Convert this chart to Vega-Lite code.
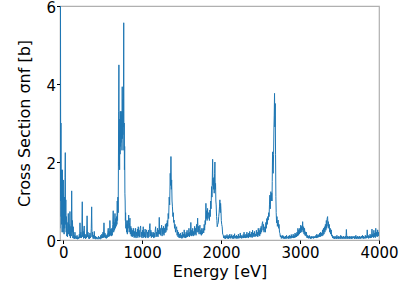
{
"$schema": "https://vega.github.io/schema/vega-lite/v6.json",
"width": 319, "height": 234,
"autosize": {"type": "none"},
"padding": {"left": 60, "top": 6, "right": 20, "bottom": 50},
"config": {"font": "DejaVu Sans", "view": {"stroke": "#b0b0b0", "strokeWidth": 1.2},
 "axis": {"grid": false, "domain": false, "tickColor": "#000", "labelColor": "#000", "titleColor": "#000", "labelFontSize": 15, "titleFontSize": 16, "titleFontWeight": "normal", "tickSize": 3.5, "labelFont": "DejaVu Sans", "titleFont": "DejaVu Sans"}},
"data": {"values": [
{"energy":-40,"sigma":0.3},{"energy":-38,"sigma":6.5},{"energy":-36,"sigma":1.0},{"energy":-34,"sigma":6.5},{"energy":-31,"sigma":1.4},{"energy":-28,"sigma":3.0},{"energy":-25,"sigma":0.6},{"energy":-22,"sigma":1.8},{"energy":-19,"sigma":0.4},{"energy":-16,"sigma":1.6},{"energy":-13,"sigma":0.2},{"energy":-10,"sigma":1.8},{"energy":-7,"sigma":0.5},{"energy":-4,"sigma":1.2},{"energy":-1,"sigma":0.2},{"energy":2,"sigma":1.54},{"energy":5,"sigma":0.3},
{"energy":8,"sigma":0.9},{"energy":12,"sigma":0.15},{"energy":16,"sigma":1.1},{"energy":20,"sigma":0.3},{"energy":24,"sigma":1.6},{"energy":27,"sigma":2.24},{"energy":30,"sigma":0.4},{"energy":34,"sigma":1.03},{"energy":38,"sigma":0.2},{"energy":42,"sigma":0.6},{"energy":46,"sigma":0.1},{"energy":50,"sigma":0.45},{"energy":55,"sigma":0.08},{"energy":60,"sigma":0.3},{"energy":65,"sigma":0.68},{"energy":70,"sigma":0.15},{"energy":75,"sigma":0.4},{"energy":80,"sigma":0.1},{"energy":86,"sigma":0.73},{"energy":92,"sigma":0.05},{"energy":98,"sigma":0.35},{"energy":103,"sigma":0.1},{"energy":108,"sigma":1.26},{"energy":113,"sigma":0.2},{"energy":118,"sigma":0.5},{"energy":123,"sigma":0.05},{"energy":128,"sigma":0.34},{"energy":134,"sigma":0.04},{"energy":140,"sigma":0.12},{"energy":146,"sigma":0.03},{"energy":149,"sigma":0.2},{"energy":155,"sigma":0.04},{"energy":162,"sigma":0.1},{"energy":170,"sigma":0.03},{"energy":176,"sigma":0.12},{"energy":183,"sigma":0.02},{"energy":190,"sigma":0.08},{"energy":197,"sigma":0.03},{"energy":205,"sigma":0.15},{"energy":210,"sigma":0.05},{"energy":213,"sigma":0.44},{"energy":218,"sigma":0.06},{"energy":224,"sigma":0.2},{"energy":230,"sigma":0.05},{"energy":236,"sigma":0.15},{"energy":242,"sigma":0.98},{"energy":247,"sigma":0.08},{"energy":253,"sigma":0.22},{"energy":258,"sigma":0.04},{"energy":263,"sigma":0.3},{"energy":267,"sigma":0.36},{"energy":272,"sigma":0.05},{"energy":278,"sigma":0.15},{"energy":284,"sigma":0.03},{"energy":290,"sigma":0.12},{"energy":296,"sigma":0.05},{"energy":303,"sigma":0.62},{"energy":309,"sigma":0.08},{"energy":315,"sigma":0.2},{"energy":321,"sigma":0.04},{"energy":327,"sigma":0.12},{"energy":333,"sigma":0.03},{"energy":339,"sigma":0.18},{"energy":345,"sigma":0.05},{"energy":351,"sigma":0.1},{"energy":356,"sigma":0.3},{"energy":361,"sigma":0.85},{"energy":366,"sigma":0.08},{"energy":372,"sigma":0.2},{"energy":378,"sigma":0.04},{"energy":385,"sigma":0.12},{"energy":390,"sigma":0.03},{"energy":394,"sigma":0.22},{"energy":400,"sigma":0.04},{"energy":407,"sigma":0.1},{"energy":413,"sigma":0.02},{"energy":420,"sigma":0.08},{"energy":427,"sigma":0.03},{"energy":434,"sigma":0.06},{"energy":441,"sigma":0.02},{"energy":448,"sigma":0.1},{"energy":455,"sigma":0.03},{"energy":462,"sigma":0.07},{"energy":469,"sigma":0.02},{"energy":476,"sigma":0.12},{"energy":483,"sigma":0.04},{"energy":490,"sigma":0.15},{"energy":497,"sigma":0.05},{"energy":504,"sigma":0.2},{"energy":510,"sigma":0.06},{"energy":517,"sigma":0.44},{"energy":523,"sigma":0.07},{"energy":529,"sigma":0.18},{"energy":535,"sigma":0.05},{"energy":541,"sigma":0.14},{"energy":547,"sigma":0.04},{"energy":553,"sigma":0.12},{"energy":559,"sigma":0.06},{"energy":565,"sigma":0.2},{"energy":571,"sigma":0.3},{"energy":577,"sigma":0.08},{"energy":583,"sigma":0.22},{"energy":588,"sigma":0.1},{"energy":592,"sigma":0.5},{"energy":598,"sigma":0.12},{"energy":604,"sigma":0.28},{"energy":610,"sigma":0.1},{"energy":616,"sigma":0.3},{"energy":622,"sigma":0.12},{"energy":628,"sigma":0.4},{"energy":634,"sigma":0.75},{"energy":640,"sigma":0.2},{"energy":646,"sigma":0.45},{"energy":651,"sigma":0.25},{"energy":656,"sigma":0.68},{"energy":661,"sigma":0.3},{"energy":666,"sigma":0.55},{"energy":671,"sigma":0.35},{"energy":676,"sigma":0.6},{"energy":681,"sigma":0.4},{"energy":685,"sigma":1.0},{"energy":689,"sigma":0.5},{"energy":693,"sigma":1.1},{"energy":697,"sigma":0.7},{"energy":700,"sigma":2.0},{"energy":703,"sigma":3.3},{"energy":706,"sigma":4.49},{"energy":709,"sigma":1.9},{"energy":712,"sigma":2.8},{"energy":715,"sigma":1.8},{"energy":718,"sigma":3.1},{"energy":721,"sigma":2.2},{"energy":724,"sigma":3.3},{"energy":727,"sigma":2.4},{"energy":730,"sigma":3.2},{"energy":733,"sigma":2.5},{"energy":736,"sigma":3.3},{"energy":739,"sigma":2.6},{"energy":742,"sigma":3.0},{"energy":745,"sigma":2.3},{"energy":748,"sigma":3.93},{"energy":751,"sigma":2.6},{"energy":754,"sigma":3.3},{"energy":757,"sigma":2.7},{"energy":760,"sigma":3.6},{"energy":763,"sigma":2.9},{"energy":767,"sigma":5.57},{"energy":770,"sigma":2.3},{"energy":773,"sigma":3.0},{"energy":776,"sigma":1.8},{"energy":779,"sigma":2.4},{"energy":782,"sigma":1.2},{"energy":785,"sigma":1.0},{"energy":788,"sigma":0.5},{"energy":791,"sigma":0.7},{"energy":794,"sigma":0.3},{"energy":798,"sigma":0.5},{"energy":803,"sigma":0.2},{"energy":808,"sigma":0.4},{"energy":813,"sigma":0.15},{"energy":818,"sigma":0.5},{"energy":823,"sigma":0.3},{"energy":830,"sigma":0.64},{"energy":836,"sigma":0.2},{"energy":842,"sigma":0.45},{"energy":846,"sigma":0.56},{"energy":851,"sigma":0.15},{"energy":857,"sigma":0.35},{"energy":863,"sigma":0.1},{"energy":869,"sigma":0.3},{"energy":875,"sigma":0.08},{"energy":881,"sigma":0.25},{"energy":887,"sigma":0.1},{"energy":893,"sigma":0.3},{"energy":899,"sigma":0.06},{"energy":905,"sigma":0.22},{"energy":911,"sigma":0.08},{"energy":917,"sigma":0.3},{"energy":923,"sigma":0.05},{"energy":929,"sigma":0.2},{"energy":935,"sigma":0.1},{"energy":941,"sigma":0.28},{"energy":946,"sigma":0.06},{"energy":951,"sigma":0.34},{"energy":957,"sigma":0.1},{"energy":963,"sigma":0.25},{"energy":969,"sigma":0.07},{"energy":975,"sigma":0.3},{"energy":981,"sigma":0.36},{"energy":987,"sigma":0.08},{"energy":993,"sigma":0.2},{"energy":999,"sigma":0.05},{"energy":1005,"sigma":0.25},{"energy":1010,"sigma":0.1},{"energy":1014,"sigma":0.34},{"energy":1020,"sigma":0.06},{"energy":1026,"sigma":0.2},{"energy":1032,"sigma":0.08},{"energy":1038,"sigma":0.28},{"energy":1044,"sigma":0.05},{"energy":1050,"sigma":0.18},{"energy":1057,"sigma":0.26},{"energy":1063,"sigma":0.07},{"energy":1069,"sigma":0.2},{"energy":1075,"sigma":0.05},{"energy":1081,"sigma":0.25},{"energy":1087,"sigma":0.08},{"energy":1093,"sigma":0.3},{"energy":1099,"sigma":0.42},{"energy":1105,"sigma":0.1},{"energy":1111,"sigma":0.25},{"energy":1117,"sigma":0.06},{"energy":1123,"sigma":0.2},{"energy":1129,"sigma":0.08},{"energy":1135,"sigma":0.15},{"energy":1141,"sigma":0.2},{"energy":1147,"sigma":0.05},{"energy":1153,"sigma":0.18},{"energy":1159,"sigma":0.07},{"energy":1165,"sigma":0.22},{"energy":1171,"sigma":0.34},{"energy":1177,"sigma":0.08},{"energy":1183,"sigma":0.2},{"energy":1189,"sigma":0.1},{"energy":1195,"sigma":0.3},{"energy":1201,"sigma":0.08},{"energy":1207,"sigma":0.25},{"energy":1212,"sigma":0.15},{"energy":1217,"sigma":0.58},{"energy":1223,"sigma":0.15},{"energy":1229,"sigma":0.3},{"energy":1235,"sigma":0.12},{"energy":1241,"sigma":0.25},{"energy":1247,"sigma":0.38},{"energy":1253,"sigma":0.1},{"energy":1259,"sigma":0.3},{"energy":1265,"sigma":0.15},{"energy":1271,"sigma":0.35},{"energy":1277,"sigma":0.12},{"energy":1283,"sigma":0.3},{"energy":1289,"sigma":0.18},{"energy":1295,"sigma":0.4},{"energy":1301,"sigma":0.2},{"energy":1307,"sigma":0.43},{"energy":1313,"sigma":0.25},{"energy":1319,"sigma":0.5},{"energy":1324,"sigma":0.35},{"energy":1330,"sigma":0.68},{"energy":1336,"sigma":0.55},{"energy":1343,"sigma":1.1},{"energy":1349,"sigma":0.9},{"energy":1356,"sigma":1.71},{"energy":1360,"sigma":1.4},{"energy":1365,"sigma":2.14},{"energy":1370,"sigma":1.3},{"energy":1374,"sigma":1.54},{"energy":1379,"sigma":1.0},{"energy":1384,"sigma":0.85},{"energy":1390,"sigma":0.6},{"energy":1395,"sigma":0.7},{"energy":1400,"sigma":0.45},{"energy":1405,"sigma":0.51},{"energy":1411,"sigma":0.3},{"energy":1417,"sigma":0.4},{"energy":1423,"sigma":0.2},{"energy":1430,"sigma":0.3},{"energy":1437,"sigma":0.34},{"energy":1443,"sigma":0.12},{"energy":1449,"sigma":0.25},{"energy":1455,"sigma":0.08},{"energy":1461,"sigma":0.2},{"energy":1467,"sigma":0.06},{"energy":1473,"sigma":0.15},{"energy":1479,"sigma":0.05},{"energy":1485,"sigma":0.18},{"energy":1491,"sigma":0.06},{"energy":1497,"sigma":0.12},{"energy":1503,"sigma":0.04},{"energy":1509,"sigma":0.2},{"energy":1515,"sigma":0.05},{"energy":1521,"sigma":0.15},{"energy":1527,"sigma":0.08},{"energy":1533,"sigma":0.26},{"energy":1539,"sigma":0.06},{"energy":1545,"sigma":0.14},{"energy":1551,"sigma":0.05},{"energy":1557,"sigma":0.2},{"energy":1563,"sigma":0.07},{"energy":1569,"sigma":0.25},{"energy":1575,"sigma":0.08},{"energy":1581,"sigma":0.18},{"energy":1587,"sigma":0.1},{"energy":1593,"sigma":0.3},{"energy":1599,"sigma":0.08},{"energy":1605,"sigma":0.2},{"energy":1611,"sigma":0.12},{"energy":1617,"sigma":0.45},{"energy":1623,"sigma":0.1},{"energy":1629,"sigma":0.25},{"energy":1635,"sigma":0.12},{"energy":1641,"sigma":0.3},{"energy":1647,"sigma":0.1},{"energy":1653,"sigma":0.22},{"energy":1659,"sigma":0.12},{"energy":1665,"sigma":0.35},{"energy":1671,"sigma":0.15},{"energy":1677,"sigma":0.3},{"energy":1683,"sigma":0.12},{"energy":1689,"sigma":0.4},{"energy":1696,"sigma":0.2},{"energy":1703,"sigma":0.56},{"energy":1709,"sigma":0.2},{"energy":1715,"sigma":0.35},{"energy":1721,"sigma":0.15},{"energy":1727,"sigma":0.3},{"energy":1732,"sigma":0.38},{"energy":1738,"sigma":0.15},{"energy":1744,"sigma":0.25},{"energy":1750,"sigma":0.12},{"energy":1756,"sigma":0.3},{"energy":1762,"sigma":0.15},{"energy":1768,"sigma":0.25},{"energy":1774,"sigma":0.3},{"energy":1780,"sigma":0.18},{"energy":1786,"sigma":0.4},{"energy":1792,"sigma":0.25},{"energy":1798,"sigma":0.5},{"energy":1803,"sigma":0.4},{"energy":1808,"sigma":0.94},{"energy":1813,"sigma":0.55},{"energy":1818,"sigma":0.75},{"energy":1823,"sigma":0.5},{"energy":1829,"sigma":0.81},{"energy":1834,"sigma":0.55},{"energy":1840,"sigma":0.7},{"energy":1846,"sigma":0.69},{"energy":1852,"sigma":0.5},{"energy":1858,"sigma":0.77},{"energy":1863,"sigma":0.6},{"energy":1868,"sigma":1.0},{"energy":1873,"sigma":0.8},{"energy":1880,"sigma":1.37},{"energy":1885,"sigma":1.1},{"energy":1889,"sigma":1.6},{"energy":1893,"sigma":2.07},{"energy":1897,"sigma":1.4},{"energy":1900,"sigma":1.6},{"energy":1904,"sigma":1.3},{"energy":1909,"sigma":1.54},{"energy":1913,"sigma":1.2},{"energy":1918,"sigma":1.7},{"energy":1922,"sigma":2.0},{"energy":1926,"sigma":1.3},{"energy":1930,"sigma":1.45},{"energy":1934,"sigma":1.0},{"energy":1938,"sigma":0.9},{"energy":1943,"sigma":0.6},{"energy":1947,"sigma":0.5},{"energy":1951,"sigma":0.34},{"energy":1957,"sigma":0.4},{"energy":1964,"sigma":0.44},{"energy":1970,"sigma":0.6},{"energy":1975,"sigma":0.7},{"energy":1980,"sigma":0.85},{"energy":1985,"sigma":1.03},{"energy":1990,"sigma":0.7},{"energy":1994,"sigma":0.94},{"energy":1998,"sigma":0.8},{"energy":2003,"sigma":0.5},{"energy":2008,"sigma":0.4},{"energy":2014,"sigma":0.34},{"energy":2020,"sigma":0.15},{"energy":2027,"sigma":0.13},{"energy":2033,"sigma":0.05},{"energy":2039,"sigma":0.1},{"energy":2045,"sigma":0.04},{"energy":2051,"sigma":0.12},{"energy":2057,"sigma":0.03},{"energy":2063,"sigma":0.1},{"energy":2069,"sigma":0.05},{"energy":2075,"sigma":0.14},{"energy":2081,"sigma":0.04},{"energy":2087,"sigma":0.1},{"energy":2093,"sigma":0.03},{"energy":2099,"sigma":0.12},{"energy":2105,"sigma":0.05},{"energy":2111,"sigma":0.15},{"energy":2117,"sigma":0.04},{"energy":2123,"sigma":0.1},{"energy":2129,"sigma":0.06},{"energy":2135,"sigma":0.14},{"energy":2141,"sigma":0.04},{"energy":2147,"sigma":0.1},{"energy":2153,"sigma":0.03},{"energy":2159,"sigma":0.12},{"energy":2165,"sigma":0.05},{"energy":2171,"sigma":0.16},{"energy":2177,"sigma":0.04},{"energy":2183,"sigma":0.1},{"energy":2189,"sigma":0.05},{"energy":2195,"sigma":0.12},{"energy":2201,"sigma":0.03},{"energy":2207,"sigma":0.1},{"energy":2213,"sigma":0.05},{"energy":2219,"sigma":0.15},{"energy":2225,"sigma":0.04},{"energy":2231,"sigma":0.1},{"energy":2237,"sigma":0.06},{"energy":2243,"sigma":0.18},{"energy":2249,"sigma":0.05},{"energy":2255,"sigma":0.12},{"energy":2261,"sigma":0.04},{"energy":2267,"sigma":0.1},{"energy":2273,"sigma":0.06},{"energy":2279,"sigma":0.14},{"energy":2285,"sigma":0.05},{"energy":2291,"sigma":0.2},{"energy":2297,"sigma":0.06},{"energy":2303,"sigma":0.12},{"energy":2309,"sigma":0.05},{"energy":2315,"sigma":0.15},{"energy":2321,"sigma":0.06},{"energy":2327,"sigma":0.2},{"energy":2333,"sigma":0.07},{"energy":2339,"sigma":0.14},{"energy":2345,"sigma":0.05},{"energy":2351,"sigma":0.18},{"energy":2357,"sigma":0.08},{"energy":2363,"sigma":0.22},{"energy":2369,"sigma":0.07},{"energy":2375,"sigma":0.15},{"energy":2381,"sigma":0.08},{"energy":2387,"sigma":0.2},{"energy":2393,"sigma":0.06},{"energy":2399,"sigma":0.25},{"energy":2405,"sigma":0.08},{"energy":2411,"sigma":0.18},{"energy":2417,"sigma":0.1},{"energy":2423,"sigma":0.22},{"energy":2429,"sigma":0.08},{"energy":2435,"sigma":0.15},{"energy":2441,"sigma":0.1},{"energy":2447,"sigma":0.25},{"energy":2453,"sigma":0.1},{"energy":2459,"sigma":0.2},{"energy":2465,"sigma":0.08},{"energy":2471,"sigma":0.3},{"energy":2477,"sigma":0.12},{"energy":2483,"sigma":0.25},{"energy":2489,"sigma":0.1},{"energy":2495,"sigma":0.3},{"energy":2501,"sigma":0.15},{"energy":2507,"sigma":0.35},{"energy":2513,"sigma":0.2},{"energy":2519,"sigma":0.4},{"energy":2526,"sigma":0.47},{"energy":2532,"sigma":0.25},{"energy":2538,"sigma":0.4},{"energy":2544,"sigma":0.2},{"energy":2549,"sigma":0.3},{"energy":2555,"sigma":0.34},{"energy":2561,"sigma":0.2},{"energy":2567,"sigma":0.45},{"energy":2573,"sigma":0.3},{"energy":2579,"sigma":0.55},{"energy":2585,"sigma":0.4},{"energy":2591,"sigma":0.6},{"energy":2597,"sigma":0.51},{"energy":2603,"sigma":0.7},{"energy":2608,"sigma":0.6},{"energy":2613,"sigma":0.9},{"energy":2618,"sigma":1.15},{"energy":2623,"sigma":0.8},{"energy":2627,"sigma":1.1},{"energy":2631,"sigma":1.24},{"energy":2636,"sigma":1.0},{"energy":2641,"sigma":1.2},{"energy":2645,"sigma":1.0},{"energy":2648,"sigma":1.5},{"energy":2652,"sigma":2.26},{"energy":2656,"sigma":1.8},{"energy":2660,"sigma":1.71},{"energy":2665,"sigma":2.2},{"energy":2669,"sigma":2.82},{"energy":2673,"sigma":3.2},{"energy":2677,"sigma":3.76},{"energy":2681,"sigma":2.9},{"energy":2686,"sigma":3.5},{"energy":2690,"sigma":2.2},{"energy":2694,"sigma":1.11},{"energy":2698,"sigma":0.7},{"energy":2703,"sigma":0.44},{"energy":2708,"sigma":0.6},{"energy":2713,"sigma":0.35},{"energy":2718,"sigma":0.45},{"energy":2723,"sigma":0.51},{"energy":2729,"sigma":0.3},{"energy":2734,"sigma":0.4},{"energy":2740,"sigma":0.2},{"energy":2745,"sigma":0.17},{"energy":2751,"sigma":0.08},{"energy":2757,"sigma":0.12},{"energy":2763,"sigma":0.04},{"energy":2769,"sigma":0.1},{"energy":2775,"sigma":0.05},{"energy":2781,"sigma":0.12},{"energy":2787,"sigma":0.04},{"energy":2793,"sigma":0.1},{"energy":2799,"sigma":0.03},{"energy":2805,"sigma":0.08},{"energy":2811,"sigma":0.04},{"energy":2817,"sigma":0.1},{"energy":2823,"sigma":0.03},{"energy":2829,"sigma":0.12},{"energy":2835,"sigma":0.05},{"energy":2841,"sigma":0.08},{"energy":2847,"sigma":0.04},{"energy":2853,"sigma":0.1},{"energy":2859,"sigma":0.03},{"energy":2865,"sigma":0.12},{"energy":2871,"sigma":0.05},{"energy":2877,"sigma":0.1},{"energy":2883,"sigma":0.04},{"energy":2889,"sigma":0.14},{"energy":2895,"sigma":0.05},{"energy":2901,"sigma":0.1},{"energy":2907,"sigma":0.06},{"energy":2913,"sigma":0.15},{"energy":2919,"sigma":0.05},{"energy":2925,"sigma":0.12},{"energy":2931,"sigma":0.06},{"energy":2937,"sigma":0.18},{"energy":2943,"sigma":0.07},{"energy":2949,"sigma":0.15},{"energy":2955,"sigma":0.08},{"energy":2961,"sigma":0.2},{"energy":2967,"sigma":0.1},{"energy":2973,"sigma":0.3},{"energy":2979,"sigma":0.12},{"energy":2985,"sigma":0.26},{"energy":2991,"sigma":0.15},{"energy":2997,"sigma":0.3},{"energy":3003,"sigma":0.18},{"energy":3009,"sigma":0.38},{"energy":3015,"sigma":0.2},{"energy":3021,"sigma":0.35},{"energy":3027,"sigma":0.25},{"energy":3033,"sigma":0.47},{"energy":3039,"sigma":0.2},{"energy":3045,"sigma":0.34},{"energy":3051,"sigma":0.15},{"energy":3057,"sigma":0.3},{"energy":3063,"sigma":0.12},{"energy":3069,"sigma":0.21},{"energy":3075,"sigma":0.1},{"energy":3081,"sigma":0.2},{"energy":3087,"sigma":0.06},{"energy":3093,"sigma":0.12},{"energy":3099,"sigma":0.05},{"energy":3105,"sigma":0.1},{"energy":3111,"sigma":0.04},{"energy":3117,"sigma":0.12},{"energy":3123,"sigma":0.05},{"energy":3129,"sigma":0.08},{"energy":3135,"sigma":0.03},{"energy":3141,"sigma":0.1},{"energy":3147,"sigma":0.04},{"energy":3153,"sigma":0.08},{"energy":3159,"sigma":0.05},{"energy":3165,"sigma":0.1},{"energy":3171,"sigma":0.04},{"energy":3177,"sigma":0.08},{"energy":3183,"sigma":0.05},{"energy":3189,"sigma":0.1},{"energy":3195,"sigma":0.06},{"energy":3201,"sigma":0.12},{"energy":3207,"sigma":0.05},{"energy":3213,"sigma":0.15},{"energy":3219,"sigma":0.06},{"energy":3225,"sigma":0.12},{"energy":3231,"sigma":0.07},{"energy":3237,"sigma":0.14},{"energy":3243,"sigma":0.08},{"energy":3249,"sigma":0.18},{"energy":3255,"sigma":0.08},{"energy":3261,"sigma":0.2},{"energy":3267,"sigma":0.1},{"energy":3273,"sigma":0.18},{"energy":3279,"sigma":0.1},{"energy":3285,"sigma":0.26},{"energy":3291,"sigma":0.12},{"energy":3297,"sigma":0.3},{"energy":3303,"sigma":0.15},{"energy":3309,"sigma":0.34},{"energy":3315,"sigma":0.2},{"energy":3321,"sigma":0.4},{"energy":3327,"sigma":0.25},{"energy":3333,"sigma":0.5},{"energy":3338,"sigma":0.3},{"energy":3343,"sigma":0.55},{"energy":3349,"sigma":0.6},{"energy":3354,"sigma":0.35},{"energy":3359,"sigma":0.47},{"energy":3364,"sigma":0.3},{"energy":3370,"sigma":0.4},{"energy":3376,"sigma":0.2},{"energy":3382,"sigma":0.3},{"energy":3388,"sigma":0.15},{"energy":3395,"sigma":0.26},{"energy":3401,"sigma":0.1},{"energy":3407,"sigma":0.13},{"energy":3413,"sigma":0.05},{"energy":3419,"sigma":0.1},{"energy":3425,"sigma":0.04},{"energy":3431,"sigma":0.08},{"energy":3437,"sigma":0.03},{"energy":3443,"sigma":0.1},{"energy":3449,"sigma":0.04},{"energy":3455,"sigma":0.08},{"energy":3461,"sigma":0.03},{"energy":3467,"sigma":0.12},{"energy":3473,"sigma":0.04},{"energy":3479,"sigma":0.08},{"energy":3485,"sigma":0.03},{"energy":3491,"sigma":0.1},{"energy":3497,"sigma":0.04},{"energy":3503,"sigma":0.08},{"energy":3509,"sigma":0.03},{"energy":3515,"sigma":0.12},{"energy":3521,"sigma":0.04},{"energy":3527,"sigma":0.1},{"energy":3533,"sigma":0.03},{"energy":3539,"sigma":0.08},{"energy":3545,"sigma":0.04},{"energy":3551,"sigma":0.1},{"energy":3557,"sigma":0.03},{"energy":3563,"sigma":0.08},{"energy":3569,"sigma":0.04},{"energy":3575,"sigma":0.1},{"energy":3581,"sigma":0.03},{"energy":3587,"sigma":0.27},{"energy":3593,"sigma":0.04},{"energy":3599,"sigma":0.1},{"energy":3605,"sigma":0.03},{"energy":3611,"sigma":0.08},{"energy":3617,"sigma":0.04},{"energy":3623,"sigma":0.1},{"energy":3629,"sigma":0.03},{"energy":3635,"sigma":0.08},{"energy":3641,"sigma":0.04},{"energy":3647,"sigma":0.1},{"energy":3653,"sigma":0.03},{"energy":3659,"sigma":0.08},{"energy":3665,"sigma":0.04},{"energy":3671,"sigma":0.1},{"energy":3677,"sigma":0.05},{"energy":3683,"sigma":0.08},{"energy":3689,"sigma":0.03},{"energy":3695,"sigma":0.1},{"energy":3701,"sigma":0.04},{"energy":3707,"sigma":0.12},{"energy":3713,"sigma":0.03},{"energy":3719,"sigma":0.08},{"energy":3725,"sigma":0.04},{"energy":3731,"sigma":0.1},{"energy":3737,"sigma":0.03},{"energy":3743,"sigma":0.08},{"energy":3749,"sigma":0.04},{"energy":3755,"sigma":0.1},{"energy":3761,"sigma":0.03},{"energy":3767,"sigma":0.08},{"energy":3773,"sigma":0.04},{"energy":3779,"sigma":0.1},{"energy":3785,"sigma":0.05},{"energy":3791,"sigma":0.12},{"energy":3797,"sigma":0.04},{"energy":3803,"sigma":0.1},{"energy":3809,"sigma":0.03},{"energy":3815,"sigma":0.08},{"energy":3821,"sigma":0.05},{"energy":3827,"sigma":0.12},{"energy":3833,"sigma":0.04},{"energy":3839,"sigma":0.1},{"energy":3845,"sigma":0.05},{"energy":3851,"sigma":0.26},{"energy":3857,"sigma":0.06},{"energy":3863,"sigma":0.12},{"energy":3869,"sigma":0.04},{"energy":3875,"sigma":0.1},{"energy":3881,"sigma":0.06},{"energy":3887,"sigma":0.15},{"energy":3893,"sigma":0.05},{"energy":3899,"sigma":0.12},{"energy":3905,"sigma":0.06},{"energy":3911,"sigma":0.28},{"energy":3917,"sigma":0.08},{"energy":3923,"sigma":0.15},{"energy":3929,"sigma":0.06},{"energy":3935,"sigma":0.25},{"energy":3941,"sigma":0.08},{"energy":3947,"sigma":0.18},{"energy":3953,"sigma":0.06},{"energy":3959,"sigma":0.3},{"energy":3965,"sigma":0.1},{"energy":3971,"sigma":0.2},{"energy":3977,"sigma":0.08},{"energy":3983,"sigma":0.26},{"energy":3989,"sigma":0.1},{"energy":3995,"sigma":0.2},{"energy":4000,"sigma":0.1}
]},
"mark": {"type": "line", "clip": true, "strokeWidth": 1, "color": "#1f77b4"},
"encoding": {
 "x": {"field": "energy", "type": "quantitative", "scale": {"domain": [-40, 4000], "nice": false, "zero": false},
   "axis": {"values": [0, 1000, 2000, 3000, 4000], "title": "Energy [eV]", "labelPadding": 2, "titlePadding": 3, "labelFlush": false, "format": "d"}},
 "y": {"field": "sigma", "type": "quantitative", "scale": {"domain": [0, 6], "nice": false},
   "axis": {"values": [0, 2, 4, 6], "title": "Cross Section σnf [b]", "labelPadding": 1, "labelOffset": 1.5, "titlePadding": 13, "labelFlush": false, "format": "d"}}
}
}
